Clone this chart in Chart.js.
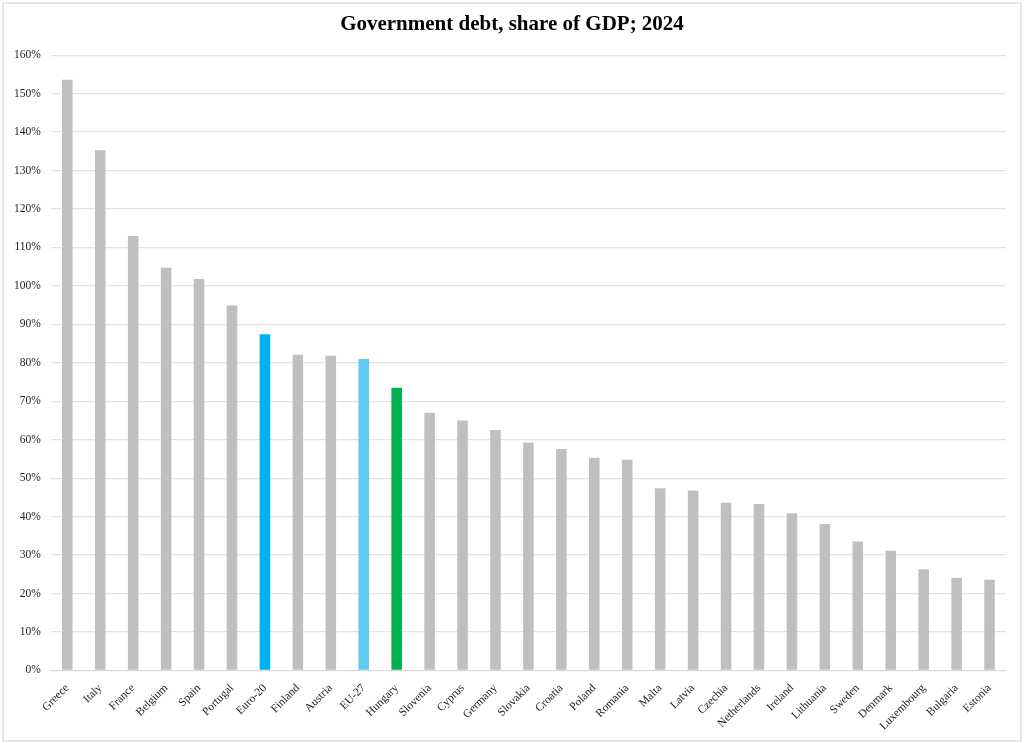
<!DOCTYPE html>
<html>
<head>
<meta charset="utf-8">
<script src="https://cdn.jsdelivr.net/npm/chart.js"></script>
<style>
  html, body { margin: 0; padding: 0; background: #fff; }
  #wrap {
    position: absolute; left: 2px; top: 2px;
    width: 1016px; height: 736px;
    border: 2px solid #e6e6e6;
  }
  #chart { display: block; }
</style>
</head>
<body>
<div id="wrap"><canvas id="chart" width="1016" height="736"></canvas></div>
<script>
// Government debt, % of GDP, 2024
const countries = ['Greece', 'Italy', 'France', 'Belgium', 'Spain', 'Portugal', 'Euro-20', 'Finland',
  'Austria', 'EU-27', 'Hungary', 'Slovenia', 'Cyprus', 'Germany', 'Slovakia', 'Croatia', 'Poland',
  'Romania', 'Malta', 'Latvia', 'Czechia', 'Netherlands', 'Ireland', 'Lithuania', 'Sweden',
  'Denmark', 'Luxembourg', 'Bulgaria', 'Estonia'];
const debt = [153.6, 135.3, 113.0, 104.7, 101.8, 94.9, 87.4, 82.1, 81.8, 81.0, 73.5, 67.0, 65.0,
  62.5, 59.3, 57.6, 55.3, 54.8, 47.4, 46.8, 43.6, 43.3, 40.9, 38.1, 33.5, 31.1, 26.3, 24.1, 23.6];
const yTicks = [0, 10, 20, 30, 40, 50, 60, 70, 80, 90, 100, 110, 120, 130, 140, 150, 160];

const grey = '#bfbfbf';
const highlight = { 'Euro-20': '#00b0f0', 'EU-27': '#5fcbf4', 'Hungary': '#00b050' };
const barColors = countries.map(c => highlight[c] || grey);

new Chart(document.getElementById('chart').getContext('2d'), {
  type: 'bar',
  data: {
    labels: countries,
    datasets: [{
      data: debt,
      backgroundColor: barColors,
      barPercentage: 0.64,
      categoryPercentage: 0.5
    }]
  },
  options: {
    responsive: false,
    animation: false,
    layout: { padding: { left: 0, right: 0, top: 4, bottom: 4 } },
    plugins: {
      legend: { display: false },
      tooltip: { enabled: false },
      title: {
        display: true,
        text: 'Government debt, share of GDP; 2024',
        color: '#000',
        font: { family: 'Liberation Serif', size: 21, weight: 'bold' },
        padding: { top: 4, bottom: 18 }
      }
    },
    scales: {
      x: {
        grid: { display: false },
        border: { color: '#d9d9d9', width: 1 },
        // keep the title centred on the full width; gap on the right only for the plot
        afterFit: s => { s.paddingLeft = 0; s.paddingRight = 14; },
        ticks: {
          color: '#222',
          font: { family: 'Liberation Serif', size: 11.5 },
          minRotation: 45, maxRotation: 45,
          autoSkip: false,
          padding: 3
        }
      },
      y: {
        min: 0, max: 160,
        afterBuildTicks: axis => { axis.ticks = yTicks.map(v => ({ value: v })); },
        grid: { color: '#e3e3e3', lineWidth: 1.2, drawTicks: false },
        border: { display: false },
        ticks: {
          color: '#222',
          font: { family: 'Liberation Serif', size: 11.5 },
          padding: 10,
          callback: v => v + '%'
        }
      }
    }
  }
});
</script>
</body>
</html>
